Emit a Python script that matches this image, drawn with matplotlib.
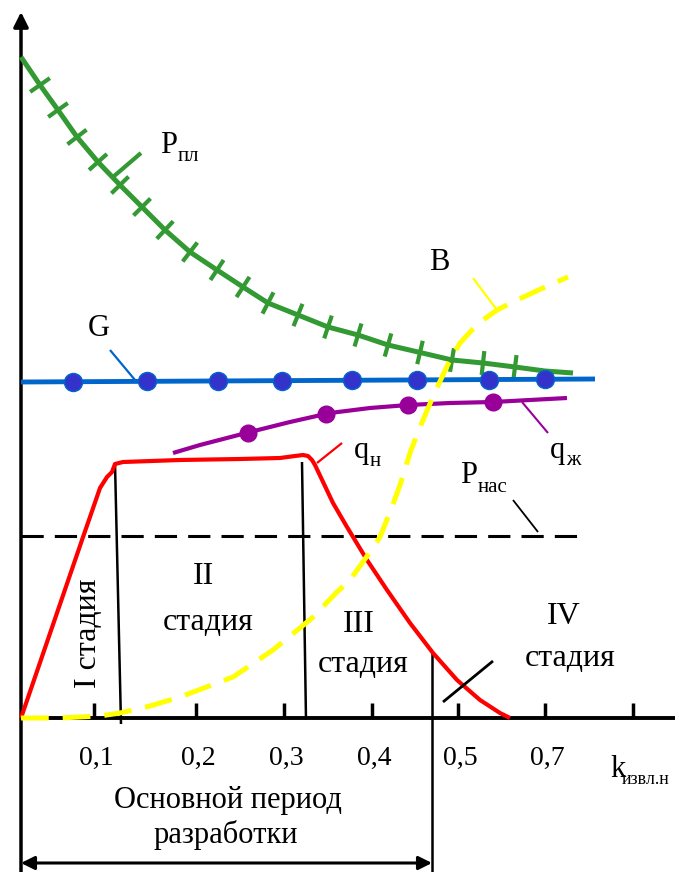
import numpy as np
import matplotlib
matplotlib.use("Agg")
import matplotlib.pyplot as plt
from matplotlib.collections import LineCollection

# ---- curves (schematic units, origin at the axis crossing) ----
# reservoir pressure P_pl
ppl_x = [0, 19, 37, 56, 77, 99, 121, 144, 169, 196, 222, 247, 277, 307, 337,
         367, 397, 431, 462, 494, 524, 552]
ppl_y = [661, 633, 608, 581, 556, 533, 511, 488, 466, 448, 431, 415, 403, 391,
         383, 373, 366, 358, 355, 351, 347, 345]
ppl_ticks = [19, 37, 56, 77, 99, 121, 144, 169, 196, 222, 247, 277, 307, 337,
             367, 399, 431, 462, 494]

# gas factor G
g_x = [0, 574]
g_y = [336, 339]
g_dots = [52, 126, 197, 261, 331, 396, 468, 524]

# liquid rate q_zh
qzh_x = [152, 179, 229, 269, 309, 349, 387, 429, 472, 546]
qzh_y = [265, 273, 286, 296, 305, 310, 313, 315, 316, 320]
qzh_dots = [227, 305, 387, 472]

# oil rate q_n
qn_x = [0, 61, 69, 79, 86, 91, 94, 102, 159, 219, 259, 274, 282, 287, 291,
        294, 303, 312, 326, 346, 366, 389, 412, 436, 459, 479, 489]
qn_y = [0, 178, 201, 230, 241, 246, 254, 256, 258, 259, 260, 262, 263, 262,
        258, 253, 234, 215, 191, 158, 128, 95, 65, 38, 18, 5, 0]

# water cut B
b_x = [0, 39, 79, 99, 129, 159, 212, 252, 291, 316, 329, 349, 359, 371, 379,
       390, 402, 414, 429, 439, 451, 462, 476, 496, 522, 547]
b_y = [0, 0, 2, 5, 12, 21, 41, 68, 100, 126, 138, 166, 181, 211, 233, 268,
       298, 326, 358, 375, 388, 398, 408, 418, 430, 441]

# saturation pressure level
p_nas = 182
p_nas_end = 564

# k axis
tick_x = [73, 175, 263, 351, 437, 524, 612]
tick_labels = ["0,1", "0,2", "0,3", "0,4", "0,5", "0,7", ""]

# stage boundaries (x at top, x at bottom, y top, y bottom)
stage_lines = [(94, 100, 255, -6), (281, 285, 256, -2), (411, 411, 66, -154)]
main_period_end = 411

GREEN = "#339933"
BLUE = "#0066CC"
DOT = "#3333CC"
PURPLE = "#990099"
YELLOW = "#FFFF00"
RED = "#FF0000"
SERIF = ["Liberation Serif", "DejaVu Serif"]

plt.rcParams["lines.scale_dashes"] = False
plt.rcParams["lines.solid_capstyle"] = "butt"

fig = plt.figure(figsize=(6.75, 8.72), dpi=100)
ax = fig.add_axes([0, 0, 1, 1])
ax.set_xlim(-21, 654)
ax.set_ylim(-154, 718)
ax.axis("off")

# axes with arrows
ax.annotate("", xy=(0, 706), xytext=(0, -154),
            arrowprops=dict(arrowstyle="-|>", lw=2.5, color="k",
                            mutation_scale=22, shrinkA=0, shrinkB=0))
ax.plot([0, 660], [0, 0], color="k", lw=2.8, zorder=3)
ax.vlines(tick_x, 0, 15, color="k", lw=2.5, zorder=3)
for x, lab in zip(tick_x, tick_labels):
    ax.text(x + 2, -40, lab, ha="center", va="center", fontsize=20,
            family=SERIF)
ax.text(589, -59, "k", ha="left", va="baseline", fontsize=22, family=SERIF)
ax.text(601, -66, "извл.н", ha="left", va="baseline", fontsize=13,
        family=SERIF)

# stage boundaries
for x0, x1, y0, y1 in stage_lines:
    ax.plot([x0, x1], [y0, y1], color="k", lw=1.8, zorder=2)

# main development period arrow
ax.annotate("", xy=(0, -145), xytext=(main_period_end, -145),
            arrowprops=dict(arrowstyle="<|-|>", lw=2.2, color="k",
                            mutation_scale=20, shrinkA=0, shrinkB=0))
ax.text(207, -82, "Основной период", ha="center", va="center", fontsize=22,
        family=SERIF)
ax.text(205, -117, "разработки", ha="center", va="center", fontsize=22,
        family=SERIF)

# saturation pressure
ax.plot([0, p_nas_end], [p_nas, p_nas], color="k", lw=2.2,
        dashes=(16, 8), zorder=2)
ax.plot([492, 517], [218, 186], color="k", lw=1.3)
ax.text(439, 235, "P", ha="left", va="baseline", fontsize=22, family=SERIF)
ax.text(457, 226, "нас", ha="left", va="baseline", fontsize=15, family=SERIF)

# reservoir pressure with cross ticks
ax.plot(ppl_x, ppl_y, color=GREEN, lw=3.6, zorder=4,
        solid_joinstyle="round")
xs = np.linspace(ppl_x[0], ppl_x[-1], 600)
ys = np.interp(xs, ppl_x, ppl_y)
dydx = np.gradient(ys, xs)
segs = []
for tx in ppl_ticks:
    ty = np.interp(tx, ppl_x, ppl_y)
    s = np.interp(tx, xs, dydx)
    n = np.array([-s, 1.0]) / np.hypot(s, 1.0)
    segs.append([(tx - 12 * n[0], ty - 12 * n[1]),
                 (tx + 12 * n[0], ty + 12 * n[1])])
ax.add_collection(LineCollection(segs, colors=GREEN, linewidths=3.0,
                                 zorder=4))
ax.plot([92, 120], [541, 565], color=GREEN, lw=3.0, zorder=4)
ax.text(139, 565, "P", ha="left", va="baseline", fontsize=22, family=SERIF)
ax.text(157, 557, "пл", ha="left", va="baseline", fontsize=15, family=SERIF)

# gas factor
ax.plot(g_x, g_y, color=BLUE, lw=3.5, zorder=5)
ax.plot(g_dots, np.interp(g_dots, g_x, g_y), "o", color=DOT, mec=BLUE,
        mew=1.0, ms=13, zorder=6)
ax.plot([89, 114], [368, 338], color=BLUE, lw=1.6, zorder=5)
ax.text(78, 390, "G", ha="center", va="center", fontsize=22, family=SERIF)

# liquid rate
ax.plot(qzh_x, qzh_y, color=PURPLE, lw=3.0, zorder=5,
        solid_joinstyle="round")
ax.plot(qzh_dots, np.interp(qzh_dots, qzh_x, qzh_y), "o", color=PURPLE,
        ms=12, zorder=6)
ax.plot([501, 527], [316, 285], color=PURPLE, lw=1.5, zorder=5)
ax.text(529, 260, "q", ha="left", va="baseline", fontsize=22, family=SERIF)
ax.text(545, 253, "ж", ha="left", va="baseline", fontsize=15, family=SERIF)

# oil rate
ax.plot(qn_x, qn_y, color=RED, lw=3.0, zorder=5,
        solid_joinstyle="round")
ax.plot([296, 321], [255, 275], color=RED, lw=1.6, zorder=5)
ax.plot([422, 472], [16, 57], color="k", lw=2.0, zorder=6)
ax.text(333, 260, "q", ha="left", va="baseline", fontsize=22, family=SERIF)
ax.text(349, 252, "н", ha="left", va="baseline", fontsize=15, family=SERIF)

# water cut
ax.plot(b_x, b_y, color=YELLOW, lw=3.6, dashes=(20, 10), zorder=7)
ax.plot([452, 476], [440, 408], color=YELLOW, lw=1.6, zorder=7)
ax.text(418, 455, "B", ha="center", va="center", fontsize=22, family=SERIF)

# stage names
ax.text(68, 85, "I стадия", rotation=90, ha="center", va="center",
        fontsize=23, family=SERIF)
for (cx, cy), num in zip([(182, 141), (338, 93), (543, 102)],
                         ["II", "III", "IV"]):
    ax.text(cx, cy, num, ha="center", va="center", fontsize=23, family=SERIF)
for cx, cy in [(187, 96), (342, 54), (549, 60)]:
    ax.text(cx, cy, "стадия", ha="center", va="center", fontsize=23,
            family=SERIF)

fig.savefig("out.png", dpi=100)
